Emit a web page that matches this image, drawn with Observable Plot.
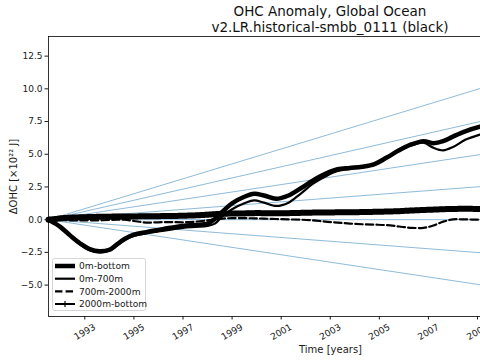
<!DOCTYPE html>
<html><head><meta charset="utf-8">
<script src="https://cdn.jsdelivr.net/npm/d3@7"></script>
<script src="https://cdn.jsdelivr.net/npm/@observablehq/plot@0.6"></script>
<style>
html,body{margin:0;padding:0;background:#fff;overflow:hidden;}
#wrap{position:relative;width:480px;height:360px;overflow:hidden;font-family:"DejaVu Sans",sans-serif;}
#chart{position:absolute;left:0;top:0;width:640px;height:360px;}
#chart svg{max-width:none !important;width:640px !important;height:360px !important;}
#title{position:absolute;left:0;top:4px;width:660px;text-align:center;font-size:13.5px;line-height:15.5px;color:#111;white-space:nowrap;}
#legend{position:absolute;left:0;top:0;pointer-events:none;}
</style></head><body>
<div id="wrap">
<div id="chart"></div>
<div id="title">OHC Anomaly, Global Ocean<br>v2.LR.historical-smbb_0111 (black)</div>
<div id="legendBox"></div>
</div>
<script>
// ---- data ----
const years = [1991.52, 1991.8, 1992.0, 1992.4, 1992.8, 1993.2, 1993.6, 1994.0, 1994.3, 1994.6,
  1995.0, 1995.5, 1996.0, 1996.5, 1997.0, 1997.5, 1998.0, 1998.3, 1998.6, 1999.0,
  1999.5, 1999.9, 2000.3, 2000.8, 2001.3, 2001.8, 2002.3, 2002.8, 2003.3, 2003.8,
  2004.3, 2004.8, 2005.3, 2005.8, 2006.3, 2006.8, 2007.2, 2007.6, 2008.0, 2008.5,
  2009.1, 2009.6];
const ohc0mBottom = [0, -0.3, -0.55, -1.2, -1.8, -2.25, -2.42, -2.3, -1.9, -1.5,
  -1.15, -0.95, -0.78, -0.62, -0.48, -0.4, -0.3, 0.05, 0.6, 1.25,
  1.75, 1.98, 1.85, 1.6, 1.85, 2.4, 3.0, 3.5, 3.85, 3.95,
  4.05, 4.25, 4.75, 5.3, 5.75, 6.0, 5.85, 6.0, 6.35, 6.75,
  7.1, 7.3];
const ohc0m700m = [0, -0.32, -0.6, -1.25, -1.88, -2.33, -2.5, -2.38, -2.0, -1.6,
  -1.25, -1.05, -0.9, -0.76, -0.62, -0.55, -0.48, -0.3, 0.25, 0.8,
  1.25, 1.48, 1.3, 1.05, 1.3, 2.0, 2.75, 3.3, 3.72, 3.88,
  4.0, 4.2, 4.7, 5.25, 5.68, 5.88, 5.5, 5.3, 5.55, 6.1,
  6.5, 6.75];
const ohc700m2000m = [0, 0, -0.02, -0.05, -0.05, -0.05, -0.05, -0.02, 0, 0,
  -0.1, -0.22, -0.2, -0.18, -0.2, -0.15, -0.05, 0.02, 0.08, 0.12,
  0.12, 0.1, 0.08, 0.05, 0.02, 0, -0.05, -0.15, -0.22, -0.3,
  -0.35, -0.38, -0.42, -0.52, -0.62, -0.62, -0.45, -0.15, 0.02, 0.02,
  0, 0];
const ohc2000mBottom = [0, 0.05, 0.1, 0.15, 0.18, 0.2, 0.22, 0.23, 0.24, 0.25,
  0.25, 0.26, 0.27, 0.28, 0.3, 0.33, 0.38, 0.42, 0.45, 0.47,
  0.48, 0.5, 0.5, 0.5, 0.5, 0.52, 0.54, 0.55, 0.56, 0.57,
  0.58, 0.6, 0.62, 0.65, 0.7, 0.74, 0.77, 0.8, 0.82, 0.83,
  0.82, 0.82];
// reference lines (constant-rate) : value reached at the right end of the x range
const refLineEnd = [13.1, 9.8, 6.5, 3.3, 0, -3.3, -6.5];
const xDomain = [1991.52, 2014.5];
const yDomain = [-7.4, 14];
const xTicks = [1993, 1995, 1997, 1999, 2001, 2003, 2005, 2007, 2009, 2011, 2013];
const yTicks = [-5, -2.5, 0, 2.5, 5, 7.5, 10, 12.5];
const seriesNames = ["0m-bottom", "0m-700m", "700m-2000m", "2000m-bottom"];

// ---- tables ----
const rows = years.map((year, i) => ({
  year, full: ohc0mBottom[i], upper: ohc0m700m[i], mid: ohc700m2000m[i], deep: ohc2000mBottom[i]
}));
const refRows = refLineEnd.flatMap((v, i) => [
  {line: i, year: xDomain[0], v: 0},
  {line: i, year: xDomain[1], v}
]);

const curve = "catmull-rom";
const chart = Plot.plot({
  width: 640, height: 360,
  marginTop: 36, marginLeft: 48, marginRight: 28, marginBottom: 44,
  style: {fontFamily: "DejaVu Sans, sans-serif", color: "#1a1a1a", background: "white", maxWidth: "none"},
  x: {domain: xDomain},
  y: {domain: yDomain},
  marks: [
    Plot.line(refRows, {x: "year", y: "v", z: "line", stroke: "#1f77b4", strokeOpacity: 0.5, strokeWidth: 1}),
    Plot.line(rows, {x: "year", y: "deep", stroke: "black", strokeWidth: 6, strokeDasharray: "0.9,1.15", curve}),
    Plot.line(rows, {x: "year", y: "deep", stroke: "black", strokeWidth: 1.8, curve}),
    Plot.line(rows, {x: "year", y: "mid", stroke: "black", strokeWidth: 2.2, strokeDasharray: "7.4,3.2", curve}),
    Plot.line(rows, {x: "year", y: "upper", stroke: "black", strokeWidth: 2.2, curve}),
    Plot.line(rows, {x: "year", y: "full", stroke: "black", strokeWidth: 4.5, curve}),
    Plot.frame({stroke: "black", strokeWidth: 0.8}),
    Plot.axisY({ticks: yTicks, tickFormat: d3.format(".1f"), tickSize: 3.5, tickPadding: 2.5, fontSize: 9, label: null}),
    Plot.axisX({ticks: xTicks, tickFormat: d => String(d), tickSize: 3.5, tickPadding: 12, tickRotate: -30,
      textAnchor: "middle", lineAnchor: "middle", fontSize: 9, label: null}),
    Plot.text(["ΔOHC [×10²² J]"], {frameAnchor: "left", rotate: -90, dx: -35, fontSize: 10, lineAnchor: "middle", textAnchor: "middle"}),
    Plot.text(["Time [years]"], {frameAnchor: "bottom", dy: 33, fontSize: 10, lineAnchor: "middle", textAnchor: "middle"})
  ]
});
document.getElementById("chart").appendChild(chart);

// ---- legend ----
const ns = "http://www.w3.org/2000/svg";
const lg = document.createElementNS(ns, "svg");
lg.setAttribute("id", "legend");
lg.setAttribute("width", 480); lg.setAttribute("height", 360);
const mk = (tag, attrs) => { const e = document.createElementNS(ns, tag); for (const k in attrs) e.setAttribute(k, attrs[k]); lg.appendChild(e); return e; };
mk("rect", {x: 52.5, y: 258.5, width: 93, height: 52, rx: 2, fill: "white", "fill-opacity": 0.8, stroke: "#cccccc", "stroke-width": 0.8});
const ys = [266, 278.7, 291.4, 304];
const styles = [
  {"stroke-width": 4.5}, {"stroke-width": 2.2}, {"stroke-width": 2.2, "stroke-dasharray": "7.4,3.2"}, {"stroke-width": 2}
];
seriesNames.forEach((name, i) => {
  mk("line", Object.assign({x1: 55, x2: 75, y1: ys[i], y2: ys[i], stroke: "black"}, styles[i]));
  if (i === 3) {
    mk("line", {x1: 65, x2: 65, y1: ys[i] - 3, y2: ys[i] + 3, stroke: "black", "stroke-width": 1.2});
  }
  const t = mk("text", {x: 79, y: ys[i], dy: "0.35em", "font-size": 9.1, fill: "#1a1a1a", "font-family": "DejaVu Sans, sans-serif"});
  t.textContent = name;
});
document.getElementById("legendBox").appendChild(lg);
</script>
</body></html>
